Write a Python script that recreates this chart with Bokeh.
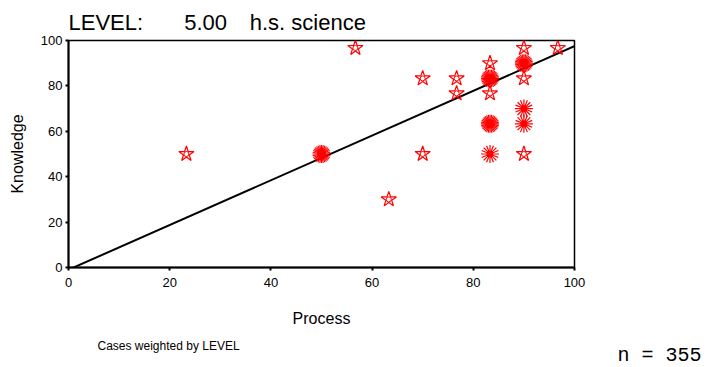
import math
from bokeh.plotting import figure
from bokeh.models import ColumnDataSource, Range1d, Label, FixedTicker
from bokeh.embed import file_html
from bokeh.resources import INLINE

# ---- data ----
process = [23.3, 50.0, 56.7, 63.3, 70.0, 70.0, 76.7, 76.7, 83.3, 83.3,
           83.3, 83.3, 83.3, 90.0, 90.0, 90.0, 90.0, 90.0, 90.0, 96.7]
knowledge = [50.0, 50.0, 96.7, 30.0, 83.3, 50.0, 83.3, 76.7, 90.0, 83.3,
             76.7, 63.3, 50.0, 96.7, 90.0, 83.3, 70.0, 63.3, 50.0, 96.7]
cases = [1, 4, 1, 1, 1, 1, 1, 1, 1, 4,
         1, 4, 2, 1, 4, 1, 2, 2, 1, 1]
fit_x = [0.7, 101.2]
fit_y = [-0.3, 98.7]
ticks = [0, 20, 40, 60, 80, 100]
NB = "\u00a0"
title_text = "LEVEL:" + NB * 6 + "\u2009" + "5.00" + NB * 3 + "\u2009" + "h.s. science"
x_title = "Process"
y_title = "Knowledge"
footnote = "Cases weighted by LEVEL"
n_text = "n = 355"

FONT = "Liberation Sans"
RED = "#FF0000"

p = figure(width=707, height=367, output_backend="svg", toolbar_location=None,
           x_range=Range1d(0, 100), y_range=Range1d(0, 100),
           min_border_left=68, min_border_right=133, min_border_top=40,
           min_border_bottom=100)
p.frame_width = 506
p.frame_height = 227
p.xgrid.visible = False
p.ygrid.visible = False
p.outline_line_color = "black"
p.outline_line_width = 1.5
p.background_fill_color = "white"
p.border_fill_color = "white"

p.title.text = title_text
p.title.text_font = FONT
p.title.text_font_size = "22px"
p.title.text_font_style = "normal"
p.title.text_color = "black"
p.title.align = "left"
p.title.offset = 0
p.title.standoff = 12

for ax in (p.xaxis[0], p.yaxis[0]):
    ax.ticker = FixedTicker(ticks=ticks)
    ax.axis_line_color = "black"
    ax.axis_line_width = 2
    ax.major_tick_in = 0
    ax.major_tick_out = 3
    ax.major_tick_line_width = 2
    ax.minor_tick_line_color = None
    ax.major_label_text_font = FONT
    ax.major_label_text_font_size = "13px"
    ax.major_label_text_color = "black"
    ax.axis_label_text_font = FONT
    ax.axis_label_text_font_size = "16px"
    ax.axis_label_text_font_style = "normal"
    ax.axis_label_text_color = "black"
p.xaxis[0].major_label_standoff = 7
p.yaxis[0].major_label_standoff = 3
p.xaxis[0].axis_label = x_title
p.yaxis[0].axis_label = y_title
p.xaxis[0].axis_label_standoff = 20
p.yaxis[0].axis_label_standoff = 12

# fit line
p.line(fit_x, fit_y, line_color="black", line_width=2)

# single-case markers
sx = [x for x, c in zip(process, cases) if c == 1]
sy = [y for y, c in zip(knowledge, cases) if c == 1]
single = ColumnDataSource(dict(x=sx, y=sy))
p.scatter("x", "y", source=single, marker="star", size=16, fill_color=None,
          line_color=RED, line_width=1.2)
p.scatter("x", "y", source=single, marker="circle", size=5, fill_color=None,
          line_color=RED, line_width=1)

# multi-case sunflower-like markers
mx, my, ma = [], [], []
cx, cy, cs = [], [], []
for x, y, c in zip(process, knowledge, cases):
    if c > 1:
        for k in range(c):
            mx.append(x)
            my.append(y)
            ma.append(math.radians(45.0 * k / c))
        cx.append(x)
        cy.append(y)
        cs.append(4 + c)
multi = ColumnDataSource(dict(x=mx, y=my, a=ma))
p.scatter("x", "y", source=multi, marker="asterisk", size=18, angle="a",
          line_color=RED, line_width=1.2)
centers = ColumnDataSource(dict(x=cx, y=cy, s=cs))
p.scatter("x", "y", source=centers, marker="circle", size="s",
          fill_color=RED, line_color=RED)

# footnote and n as labels in the bottom panel
p.add_layout(Label(x=29, y=-2, x_units="screen", y_units="screen", text=footnote,
                   text_font=FONT, text_font_size="12px", text_baseline="middle",
                   text_color="black"), "below")
p.add_layout(Label(x=549, y=11, x_units="screen", y_units="screen", text=n_text,
                   text_font="Liberation Mono", text_font_size="20px",
                   text_baseline="middle", text_color="black"), "below")

open("out.html", "w").write(file_html(p, INLINE))
